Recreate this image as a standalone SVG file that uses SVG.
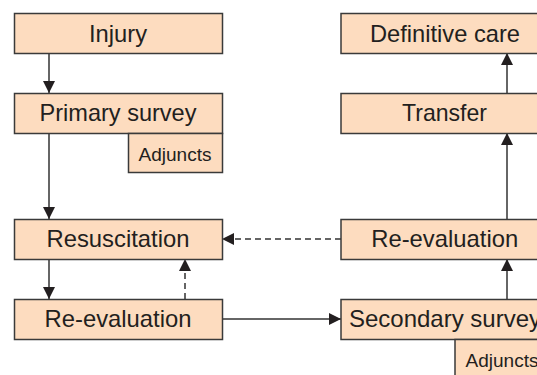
<svg xmlns="http://www.w3.org/2000/svg" width="537" height="375" viewBox="0 0 537 375">
<style>
.box{fill:#fddcbf;stroke:#3a3a3a;stroke-width:1.5}
.t{font-family:"Liberation Sans",Arial,sans-serif;font-size:24px;fill:#231f20;text-anchor:middle}
.s{font-family:"Liberation Sans",Arial,sans-serif;font-size:19px;fill:#231f20;text-anchor:middle}
.c{stroke:#333;stroke-width:1.5;fill:none}
.d{stroke-dasharray:6 4}
</style>
<defs>
<marker id="ah" markerUnits="userSpaceOnUse" markerWidth="12" markerHeight="12" refX="12" refY="6" orient="auto">
<path d="M0,0 L12,6 L0,12 Z" fill="#231f20"/>
</marker>
</defs>
<rect width="537" height="375" fill="#ffffff"/>
<g id="connectors">
<line class="c" x1="49" y1="53" x2="49" y2="93" marker-end="url(#ah)"/>
<line class="c" x1="49" y1="133" x2="49" y2="219" marker-end="url(#ah)"/>
<line class="c" x1="49" y1="259" x2="49" y2="299" marker-end="url(#ah)"/>
<line class="c d" x1="185" y1="299" x2="185" y2="259" marker-end="url(#ah)"/>
<line class="c d" x1="341" y1="239" x2="222" y2="239" marker-end="url(#ah)"/>
<line class="c" x1="222" y1="319" x2="341" y2="319" marker-end="url(#ah)"/>
<line class="c" x1="507" y1="299" x2="507" y2="259" marker-end="url(#ah)"/>
<line class="c" x1="507" y1="219" x2="507" y2="133" marker-end="url(#ah)"/>
<line class="c" x1="507" y1="93" x2="507" y2="53" marker-end="url(#ah)"/>
</g>
<g id="injury"><rect class="box" x="14.5" y="13.5" width="208" height="40"/><text class="t" x="118" y="41.8" textLength="58" lengthAdjust="spacingAndGlyphs">Injury</text></g>
<g id="primary-survey"><rect class="box" x="14.5" y="93.5" width="208" height="40"/><text class="t" x="118" y="121.3" textLength="157" lengthAdjust="spacingAndGlyphs">Primary survey</text></g>
<g id="adjuncts-1"><rect class="box" x="128.5" y="133.5" width="94" height="39"/><text class="s" x="175" y="161.3" textLength="73" lengthAdjust="spacingAndGlyphs">Adjuncts</text></g>
<g id="resuscitation"><rect class="box" x="14.5" y="219.5" width="208" height="40"/><text class="t" x="118" y="247.3" textLength="143" lengthAdjust="spacingAndGlyphs">Resuscitation</text></g>
<g id="re-evaluation-1"><rect class="box" x="14.5" y="299.5" width="208" height="40"/><text class="t" x="118" y="327.3" textLength="147" lengthAdjust="spacingAndGlyphs">Re-evaluation</text></g>
<g id="definitive-care"><rect class="box" x="341" y="13.5" width="208" height="40"/><text class="t" x="445" y="41.8" textLength="150" lengthAdjust="spacingAndGlyphs">Definitive care</text></g>
<g id="transfer"><rect class="box" x="341" y="93.5" width="208" height="40"/><text class="t" x="444.5" y="121.3" textLength="85" lengthAdjust="spacingAndGlyphs">Transfer</text></g>
<g id="re-evaluation-2"><rect class="box" x="341" y="219.5" width="208" height="40"/><text class="t" x="444.7" y="247.3" textLength="147" lengthAdjust="spacingAndGlyphs">Re-evaluation</text></g>
<g id="secondary-survey"><rect class="box" x="341" y="299.5" width="208" height="40"/><text class="t" x="445" y="327" textLength="192" lengthAdjust="spacingAndGlyphs">Secondary survey</text></g>
<g id="adjuncts-2"><rect class="box" x="455" y="339.5" width="94" height="40"/><text class="s" x="502" y="367" textLength="73" lengthAdjust="spacingAndGlyphs">Adjuncts</text></g>
</svg>
